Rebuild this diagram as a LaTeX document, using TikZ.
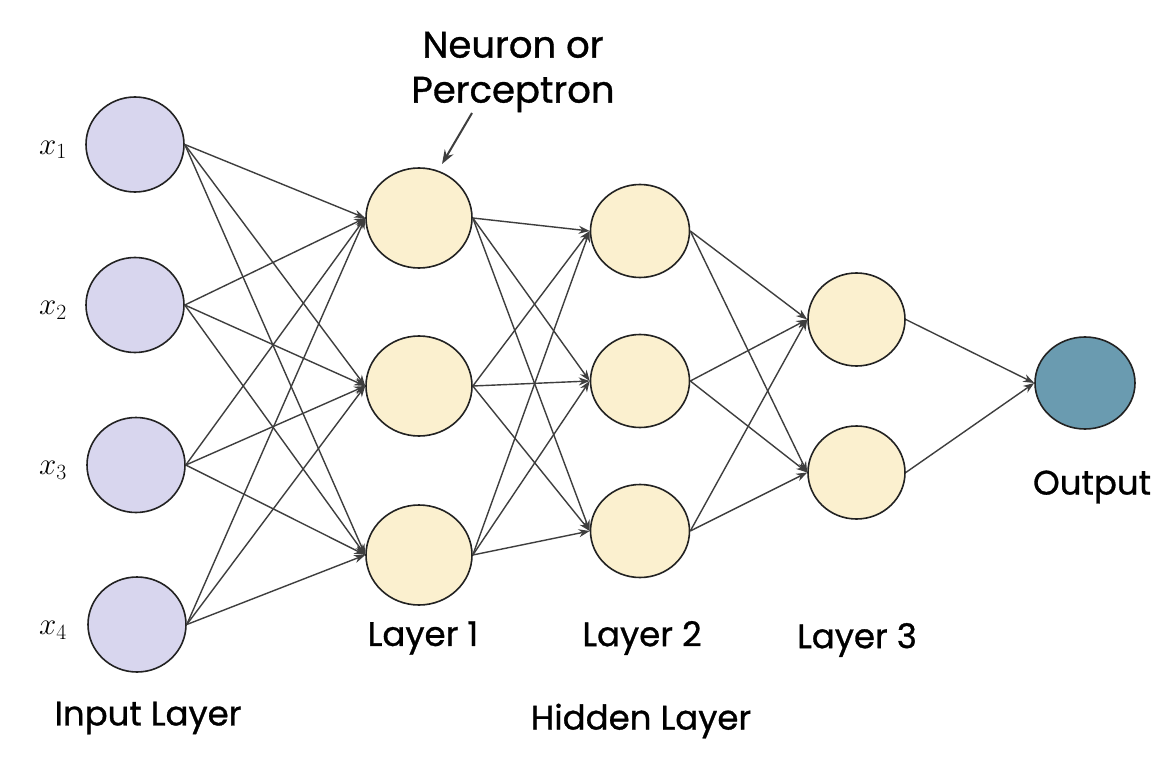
\documentclass[tikz,border=0pt]{standalone}
\usepackage{fix-cm}
\usepackage{fontspec}
\setmainfont{Poppins}[FakeBold=0.9]
\usetikzlibrary{shapes.geometric,arrows.meta}
\definecolor{inpfill}{HTML}{D8D6EE}
\definecolor{hidfill}{HTML}{FBF0CF}
\definecolor{outfill}{HTML}{6A9BB0}
\definecolor{edgecol}{HTML}{3E3E3E}
\definecolor{bordcol}{HTML}{222222}
\tikzset{
  neuron/.style={ellipse, draw=bordcol, line width=1.6pt, inner sep=0pt},
  inp/.style={neuron, fill=inpfill, minimum width=98pt, minimum height=95pt},
  hidA/.style={neuron, fill=hidfill, minimum width=106pt, minimum height=100pt},
  hidB/.style={neuron, fill=hidfill, minimum width=99pt, minimum height=93pt},
  hidC/.style={neuron, fill=hidfill, minimum width=97pt, minimum height=93pt},
  outn/.style={neuron, fill=outfill, minimum width=100pt, minimum height=92pt},
  conn/.style={draw=edgecol, line width=1.4pt, -{Stealth[length=11pt,width=8pt]}},
  lbl/.style={font=\fontsize{34}{40}\selectfont, text=black},
  mlbl/.style={font=\fontsize{31}{36}\selectfont, text=black}
}
\begin{document}
\begin{tikzpicture}[x=1pt,y=-1pt]
\useasboundingbox[fill=white] (0,0) rectangle (1164,770);
% input layer
\node[inp] (i1) at (135,144.5) {};
\node[inp] (i2) at (135,305) {};
\node[inp] (i3) at (136,465) {};
\node[inp] (i4) at (137,624.5) {};
% layer 1
\node[hidA] (a1) at (419,218) {};
\node[hidA] (a2) at (419,386) {};
\node[hidA] (a3) at (419,555) {};
% layer 2
\node[hidB] (b1) at (640,231) {};
\node[hidB] (b2) at (640,381) {};
\node[hidB] (b3) at (640,531) {};
% layer 3
\node[hidC] (c1) at (856.5,319.5) {};
\node[hidC] (c2) at (856.5,472.5) {};
% output
\node[outn] (o) at (1085,383) {};
% connections
\foreach \s in {i1,i2,i3,i4}{\foreach \t in {a1,a2,a3}{\draw[conn] (\s.east) -- (\t.west);}}
\foreach \s in {a1,a2,a3}{\foreach \t in {b1,b2,b3}{\draw[conn] (\s.east) -- (\t.west);}}
\foreach \s in {b1,b2,b3}{\foreach \t in {c1,c2}{\draw[conn] (\s.east) -- (\t.west);}}
\foreach \s in {c1,c2}{\draw[conn] (\s.east) -- (o.west);}
% input labels
\node[mlbl] (lx1) at (53,150) {$x_1$};
\node[mlbl] (lx2) at (53,310) {$x_2$};
\node[mlbl] (lx3) at (53,470) {$x_3$};
\node[mlbl] (lx4) at (53,630) {$x_4$};
% text labels
\node[align=center, font=\fontsize{37}{45}\selectfont] (neu) at (513,72) {Neuron or\\Perceptron};
\coordinate (nas) at (472,113);
\coordinate (nae) at (442,164);
\draw[draw=edgecol, line width=2pt, -{Stealth[length=14pt,width=10pt]}] (nas) -- (nae);
\node[lbl] (l1) at (423,638) {Layer 1};
\node[lbl] (l2) at (642,638) {Layer 2};
\node[lbl] (l3) at (857,640) {Layer 3};
\node[lbl] (lin) at (148,718) {Input Layer};
\node[lbl] (lhid) at (641,721) {Hidden Layer};
\node[lbl] (lout) at (1092,487) {Output};
\end{tikzpicture}
\end{document}
